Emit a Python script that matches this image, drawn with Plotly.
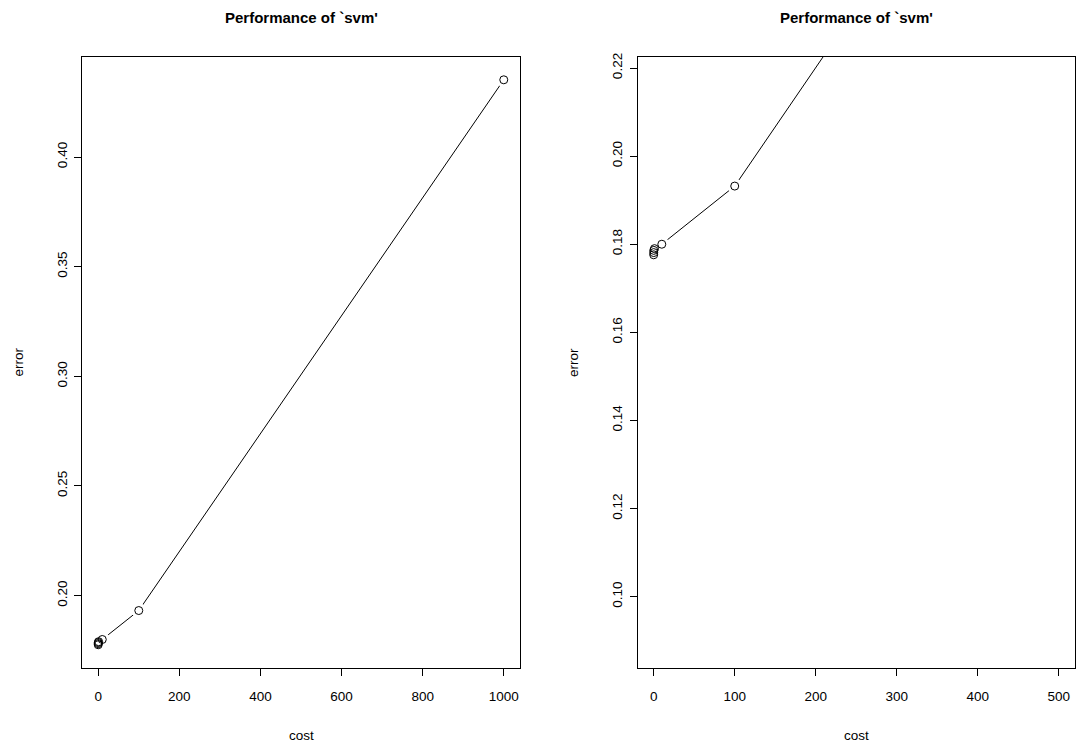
import plotly.graph_objects as go

# Tuning results: cost parameter vs. cross-validated error
cost = [0.001, 0.01, 0.1, 1, 10, 100, 1000]
error = [0.1776, 0.1781, 0.1786, 0.1790, 0.1800, 0.1932, 0.4352]

x_ticks_left = [0, 200, 400, 600, 800, 1000]
y_ticks_left = [0.20, 0.25, 0.30, 0.35, 0.40]
x_ticks_right = [0, 100, 200, 300, 400, 500]
y_ticks_right = [0.10, 0.12, 0.14, 0.16, 0.18, 0.20, 0.22]

title_text = "Performance of `svm'"
FONT = "Liberation Sans, Arial, Helvetica, sans-serif"

fig = go.Figure()

for xa, ya in (("x", "y"), ("x2", "y2")):
    # connecting line
    fig.add_trace(go.Scatter(x=cost, y=error, mode="lines", xaxis=xa, yaxis=ya,
                             line=dict(color="black", width=1), hoverinfo="skip",
                             showlegend=False))
    # white halo so the segments stop short of each point
    fig.add_trace(go.Scatter(x=cost, y=error, mode="markers", xaxis=xa, yaxis=ya,
                             marker=dict(symbol="circle", size=15, color="white",
                                         line=dict(width=0)),
                             hoverinfo="skip", showlegend=False))
    # open circles
    fig.add_trace(go.Scatter(x=cost, y=error, mode="markers", xaxis=xa, yaxis=ya,
                             marker=dict(symbol="circle-open", size=8, color="black",
                                         line=dict(width=1, color="black")),
                             showlegend=False))

axis_common = dict(showgrid=False, zeroline=False, showline=True, mirror=True,
                   linecolor="black", linewidth=1, ticks="outside", ticklen=7,
                   tickwidth=1, tickcolor="black",
                   tickfont=dict(family=FONT, size=13.5, color="black"))

left_end = (520 - 82) / 993
right_start = (637.5 - 82) / 993

fig.update_layout(
    width=1078, height=748,
    margin=dict(l=82, r=3, t=57, b=80),
    paper_bgcolor="white", plot_bgcolor="white",
    font=dict(family=FONT, color="black"),
    xaxis=dict(domain=[0, left_end], range=[-40, 1040], tickvals=x_ticks_left,
               ticktext=[str(v) for v in x_ticks_left], ticklabelstandoff=9,
               **axis_common),
    yaxis=dict(range=[0.1670, 0.4456], tickvals=y_ticks_left,
               ticktext=[f"{v:.2f}" for v in y_ticks_left], tickangle=-90,
               ticklabelstandoff=2, **axis_common),
    xaxis2=dict(domain=[right_start, 1], range=[-20, 520], anchor="y2",
                tickvals=x_ticks_right, ticktext=[str(v) for v in x_ticks_right],
                ticklabelstandoff=9, **axis_common),
    yaxis2=dict(range=[0.0838, 0.2225], anchor="x2", tickvals=y_ticks_right,
                ticktext=[f"{v:.2f}" for v in y_ticks_right], tickangle=-90,
                ticklabelstandoff=2, **axis_common),
)

annotations = []
for xd, yd in (("x domain", "y domain"), ("x2 domain", "y2 domain")):
    annotations.append(dict(text=f"<b>{title_text}</b>", xref=xd, yref=yd, x=0.5, y=1,
                            yanchor="middle", yshift=40, showarrow=False,
                            font=dict(family=FONT, size=15, color="black")))
    annotations.append(dict(text="cost", xref=xd, yref=yd, x=0.5, y=0,
                            yanchor="middle", yshift=-67, showarrow=False,
                            font=dict(family=FONT, size=13.5, color="black")))
    annotations.append(dict(text="error", xref=xd, yref=yd, x=0, y=0.5,
                            xanchor="center", xshift=-64, textangle=-90,
                            showarrow=False,
                            font=dict(family=FONT, size=13.5, color="black")))
fig.update_layout(annotations=annotations)

fig.write_html("out.html")
